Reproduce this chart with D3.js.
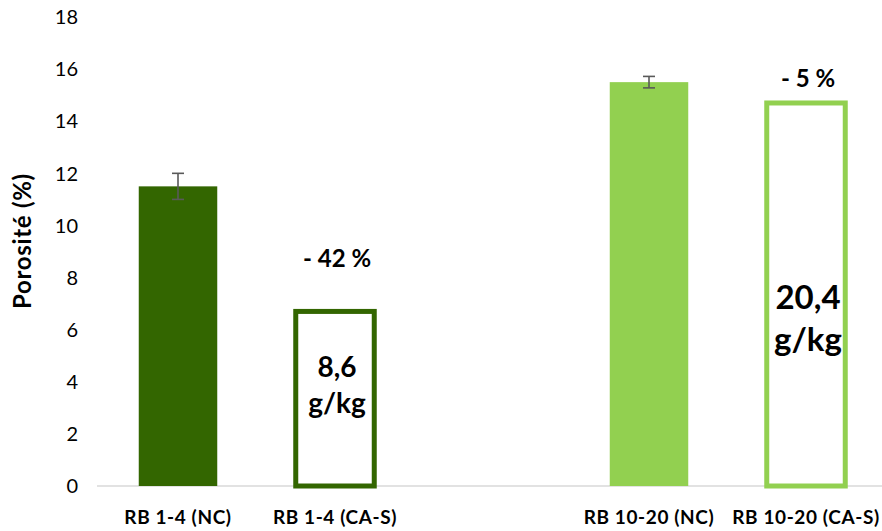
<!DOCTYPE html>
<html><head><meta charset="utf-8">
<script src="https://cdn.jsdelivr.net/npm/d3@7"></script>
<style>
body{margin:0;background:#fff;}
svg{display:block;font-family:Lato,"Open Sans",sans-serif;}
</style></head>
<body><svg id="chart" width="882" height="531"></svg>
<script>
const categories = ["RB 1-4 (NC)", "RB 1-4 (CA-S)", "", "RB 10-20 (NC)", "RB 10-20 (CA-S)"];
const values = [11.5, 6.7, null, 15.5, 14.7];
const errors = [0.5, null, null, 0.22, null];
const filled = [true, false, null, true, false];
const colors = ["#336600", "#336600", null, "#92D050", "#92D050"];
const yTicks = [0, 2, 4, 6, 8, 10, 12, 14, 16, 18];
const changeLabels = ["", "- 42 %", "", "", "- 5 %"];
const changeAt = [null, 8.4, null, null, 15.3];
const innerLabels = [null, ["8,6", "g/kg"], null, null, ["20,4", "g/kg"]];
const innerAt = [null, 4.2, null, null, 6.8];

const svg = d3.select("#chart");
const keys = categories.map((c, i) => "k" + i);
const x = d3.scaleBand().domain(keys).range([99.5, 884.5]).paddingInner(0.5).paddingOuter(0.25);
const y = d3.scaleLinear().domain([0, 18]).range([486, 17]);

// y tick labels
svg.append("g").selectAll("text").data(yTicks).join("text")
  .attr("x", 78).attr("y", d => y(d)).attr("dy", "0.36em")
  .attr("text-anchor", "end").attr("font-size", 20).attr("fill", "#000")
  .text(d => d);

// y title
svg.append("text")
  .attr("transform", `translate(31,${y(9.4)}) rotate(-90)`)
  .attr("text-anchor", "middle").attr("font-size", 24).attr("font-weight", "bold")
  .attr("letter-spacing", 0.7)
  .text("Porosité (%)");

// axis line
svg.append("line").attr("x1", 97).attr("x2", 884).attr("y1", y(0)).attr("y2", y(0))
  .attr("stroke", "#d9d9d9").attr("stroke-width", 1.5);

const idx = d3.range(categories.length).filter(i => values[i] != null);

// filled bars
svg.append("g").selectAll("rect").data(idx.filter(i => filled[i])).join("rect")
  .attr("x", i => x(keys[i])).attr("width", x.bandwidth())
  .attr("y", i => y(values[i])).attr("height", i => y(0) - y(values[i]))
  .attr("fill", i => colors[i]);

// outline bars
svg.append("g").selectAll("rect").data(idx.filter(i => !filled[i])).join("rect")
  .attr("x", i => x(keys[i])).attr("width", x.bandwidth())
  .attr("y", i => y(values[i])).attr("height", i => y(0) - y(values[i]))
  .attr("fill", "#fff").attr("stroke", i => colors[i]).attr("stroke-width", 5);

// error bars
const eg = svg.append("g").attr("stroke", "#595959").attr("stroke-width", 1.6);
idx.filter(i => errors[i] != null).forEach(i => {
  const cx = x(keys[i]) + x.bandwidth() / 2;
  const y1 = y(values[i] + errors[i]), y2 = y(values[i] - errors[i]);
  eg.append("line").attr("x1", cx).attr("x2", cx).attr("y1", y1).attr("y2", y2);
  eg.append("line").attr("x1", cx - 6).attr("x2", cx + 6).attr("y1", y1).attr("y2", y1);
  eg.append("line").attr("x1", cx - 6).attr("x2", cx + 6).attr("y1", y2).attr("y2", y2);
});

// change labels
svg.append("g").selectAll("text").data(idx.filter(i => changeLabels[i])).join("text")
  .attr("x", i => x(keys[i]) + x.bandwidth() / 2 + 2).attr("y", i => y(changeAt[i]))
  .attr("text-anchor", "middle").attr("font-size", 24).attr("font-weight", "bold")
  .text(i => changeLabels[i]);

// inner labels
idx.filter(i => innerLabels[i]).forEach(i => {
  const cx = x(keys[i]) + x.bandwidth() / 2 + 2;
  const big = i === 4;
  const t = svg.append("text").attr("text-anchor", "middle")
    .attr("font-size", big ? 33 : 28).attr("font-weight", "bold")
    .attr("x", cx).attr("y", y(innerAt[i]));
  innerLabels[i].forEach((s, j) => {
    t.append("tspan").attr("x", cx).attr("dy", j === 0 ? 0 : (big ? 42 : 36)).text(s);
  });
});

// category labels
svg.append("g").selectAll("text").data(idx).join("text")
  .attr("x", i => x(keys[i]) + x.bandwidth() / 2).attr("y", 524)
  .attr("text-anchor", "middle").attr("font-size", 19).attr("font-weight", "bold")
  .attr("letter-spacing", 0.6)
  .text(i => categories[i]);
</script></body></html>
